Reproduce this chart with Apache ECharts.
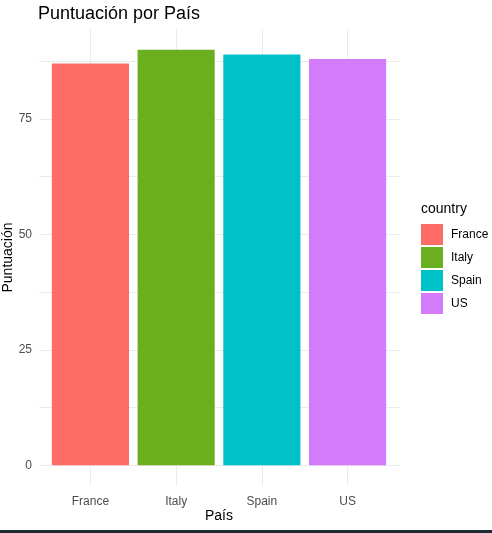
<!DOCTYPE html>
<html style="height:100%;">
<head>
    <meta charset="utf-8">
    <title>Puntuación por País</title>
    <script src="https://cdn.jsdelivr.net/npm/echarts@6/dist/echarts.min.js"></script>
</head>
<body style="height: 100%; margin: 0; background: #fff;">
    <div id="main" style="width: 492px; height: 533px;"></div>
    <script type="text/javascript">
    // datos del gráfico
    var countries = ['France', 'Italy', 'Spain', 'US'];
    var scores = [87, 90, 89, 88];
    var yLabels = [0, 25, 50, 75];
    var yGridLines = [0, 12.5, 25, 37.5, 50, 62.5, 75, 87.5];
    var palette = ['#FF6C65', '#6BAF1F', '#00C1C7', '#D47BFC'];

    var font = "'Liberation Sans', Arial, sans-serif";
    var positions = countries.map(function (c, i) { return i + 1; });

    // panel de ggplot: 39..399 px, ejes discretos con 0.6 de expansión
    var band = 360 / 4.2;
    var pad = 0.1 * band;

    var myChart = echarts.init(document.getElementById('main'));
    myChart.setOption({
        animation: false,
        textStyle: { fontFamily: font },
        title: [{
            text: 'Puntuación por País',
            left: 38,
            top: 5,
            padding: 0,
            textStyle: { fontFamily: font, fontSize: 18, fontWeight: 'normal', color: '#000' }
        }, {
            text: 'country',
            left: 421,
            top: 202,
            padding: 0,
            textStyle: { fontFamily: font, fontSize: 14, fontWeight: 'normal', color: '#000' }
        }],
        legend: {
            orient: 'vertical',
            left: 421,
            top: 224,
            padding: 0,
            itemWidth: 22,
            itemHeight: 21,
            itemGap: 2,
            icon: 'rect',
            data: countries,
            textStyle: { fontFamily: font, fontSize: 12, color: '#000', padding: [2, 0, 0, 3] }
        },
        grid: [
            { left: 39, right: 93, top: 29, bottom: 47, outerBoundsMode: 'none' },
            { left: 39 + pad, right: 93 + pad, top: 29, bottom: 47, outerBoundsMode: 'none' }
        ],
        xAxis: [{
            gridIndex: 0,
            type: 'value',
            min: 0.4,
            max: 4.6,
            axisLine: { show: false },
            axisTick: { show: false, customValues: positions },
            axisLabel: { show: false },
            splitLine: { show: true, lineStyle: { color: '#EBEBEB', width: 1 } }
        }, {
            gridIndex: 1,
            type: 'category',
            data: countries,
            name: 'País',
            nameLocation: 'middle',
            nameGap: 23,
            nameMoveOverlap: false,
            nameTextStyle: { fontFamily: font, fontSize: 14, color: '#000' },
            axisLine: { show: false },
            axisTick: { show: false },
            axisLabel: { margin: 10, fontSize: 12, color: '#4D4D4D' },
            splitLine: { show: false }
        }],
        yAxis: [{
            gridIndex: 0,
            type: 'value',
            min: -4.5,
            max: 94.5,
            name: 'Puntuación',
            nameLocation: 'middle',
            nameGap: 24,
            nameMoveOverlap: false,
            nameTextStyle: { fontFamily: font, fontSize: 14, color: '#000' },
            axisLine: { show: false },
            axisTick: { show: false, customValues: yGridLines },
            axisLabel: {
                customValues: yLabels,
                margin: 7,
                fontSize: 12,
                color: '#4D4D4D'
            },
            splitLine: { show: true, lineStyle: { color: '#EBEBEB', width: 1 } }
        }, {
            gridIndex: 1,
            type: 'value',
            min: -4.5,
            max: 94.5,
            show: false
        }],
        series: countries.map(function (c, i) {
            return {
                name: c,
                type: 'bar',
                xAxisIndex: 1,
                yAxisIndex: 1,
                barWidth: '90%',
                barGap: '-100%',
                itemStyle: { color: palette[i] },
                data: countries.map(function (d, j) { return j === i ? scores[i] : '-'; })
            };
        }),
        color: palette,
        graphic: [{
            type: 'rect',
            left: 0,
            bottom: 0,
            shape: { width: 492, height: 3 },
            style: { fill: '#1C2B33' }
        }]
    });
    </script>
</body>
</html>
